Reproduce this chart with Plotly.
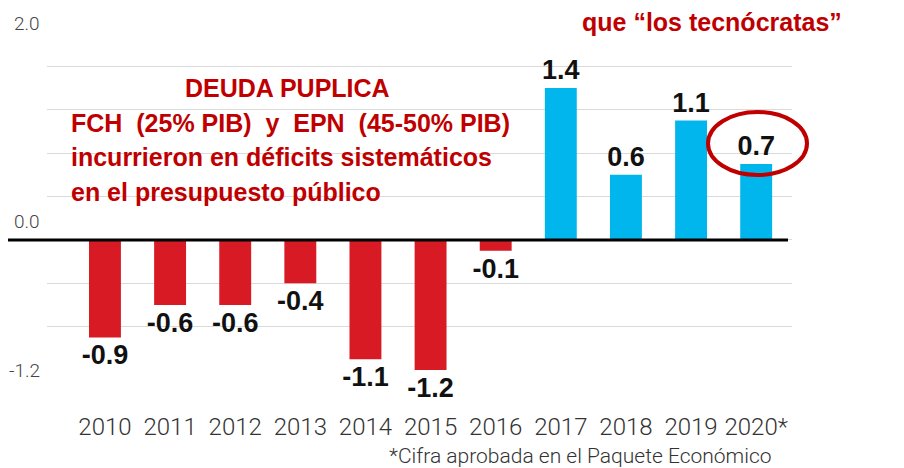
import plotly.graph_objects as go

years = ["2010", "2011", "2012", "2013", "2014", "2015", "2016", "2017", "2018", "2019", "2020"]
tick_labels = ["2010", "2011", "2012", "2013", "2014", "2015", "2016", "2017", "2018", "2019", "2020*"]
balance = [-0.9, -0.6, -0.6, -0.4, -1.1, -1.2, -0.1, 1.4, 0.6, 1.1, 0.7]
y_labels = [2.0, 0.0, -1.2]

RED = "#D71A24"
BLUE = "#00B6EC"
DARKRED = "#C00000"
THIN = "Roboto, Liberation Sans, Arial, sans-serif"
BOLD = "Liberation Sans, Arial, sans-serif"

colors = [RED if v < 0 else BLUE for v in balance]

fig = go.Figure()
fig.add_trace(go.Bar(
    x=years, y=balance, marker=dict(color=colors, line=dict(width=0)),
    text=[f"{v:.1f}" for v in balance], textposition="outside",
    textfont=dict(family=BOLD, size=27, color="#111111", weight="bold"),
    constraintext="none", cliponaxis=False, hoverinfo="skip",
))

# page body has an 8px default margin
OFF = 8
W, H = 904, 468
PLOT_L, PLOT_R, PLOT_T, PLOT_B = 47, 792, 23, 370  # window pixels
L = PLOT_L - OFF
T = PLOT_T - OFF
R = W - (PLOT_R - OFF)
B = H - (PLOT_B - OFF)
pw = PLOT_R - PLOT_L
ph = PLOT_B - PLOT_T

def px_x(p):
    return (p - PLOT_L) / pw

def px_y(p):
    return (PLOT_B - p) / ph

annotations = []
for v in y_labels:
    annotations.append(dict(
        x=px_x(42), xref="paper", y=v, yref="y", text=f"{v:.1f}",
        showarrow=False, xanchor="right", yanchor="middle",
        yshift=18 if v == 0 else 0,
        font=dict(family=THIN, size=19, color="#444444", weight=300),
    ))

red_font = dict(family=BOLD, size=25, color=DARKRED, weight="bold")
annotations.append(dict(x=px_x(287), y=px_y(88), xref="paper", yref="paper",
                        text="DEUDA PUPLICA", showarrow=False, xanchor="center",
                        yanchor="middle", font=red_font))
for txt, yp in [("FCH  (25% PIB)  y  EPN  (45-50% PIB)", 123),
                ("incurrieron en déficits sistemáticos", 157),
                ("en el presupuesto público", 192)]:
    annotations.append(dict(x=px_x(69), y=px_y(yp), xref="paper", yref="paper",
                            text=txt, showarrow=False, xanchor="left",
                            yanchor="middle", font=red_font))
annotations.append(dict(x=px_x(712), y=px_y(22), xref="paper", yref="paper",
                        text="que “los tecnócratas”", showarrow=False,
                        xanchor="center", yanchor="middle", font=red_font,
                        bgcolor="white", borderpad=6))
annotations.append(dict(x=px_x(580), y=px_y(456), xref="paper", yref="paper",
                        text="*Cifra aprobada en el Paquete Económico",
                        showarrow=False, xanchor="center", yanchor="middle",
                        font=dict(family=THIN, size=21, color="#333333", weight=300)))

shapes = [
    dict(type="rect", xref="paper", yref="paper", x0=px_x(50), x1=px_x(520),
         y0=px_y(215), y1=px_y(40), fillcolor="white", line=dict(width=0),
         layer="between"),
    dict(type="line", xref="paper", yref="y", x0=px_x(5), x1=px_x(788),
         y0=0, y1=0, line=dict(color="black", width=3), layer="above"),
    dict(type="circle", xref="paper", yref="paper", x0=px_x(708), x1=px_x(807),
         y0=px_y(175), y1=px_y(112), line=dict(color=DARKRED, width=4),
         layer="above"),
]

fig.update_layout(
    width=W, height=H, margin=dict(l=L, r=R, t=T, b=B, autoexpand=False),
    paper_bgcolor="white", plot_bgcolor="white", showlegend=False,
    bargap=0.51, annotations=annotations, shapes=shapes,
    xaxis=dict(type="category", categoryorder="array", categoryarray=years,
               tickvals=years, ticktext=tick_labels, range=[-0.89, 10.55],
               showgrid=False, zeroline=False, showline=False, ticks="",
               tickangle=0, automargin=False,
               tickfont=dict(family=THIN, size=24, color="#333333", weight=300),
               ticklabelstandoff=40),
    yaxis=dict(range=[-1.2, 2.0], dtick=0.4, tick0=0, showgrid=True,
               gridcolor="#DADADA", gridwidth=1, zeroline=False,
               showticklabels=False, showline=False, ticks="",
               automargin=False),
)

fig.write_html("out.html")
